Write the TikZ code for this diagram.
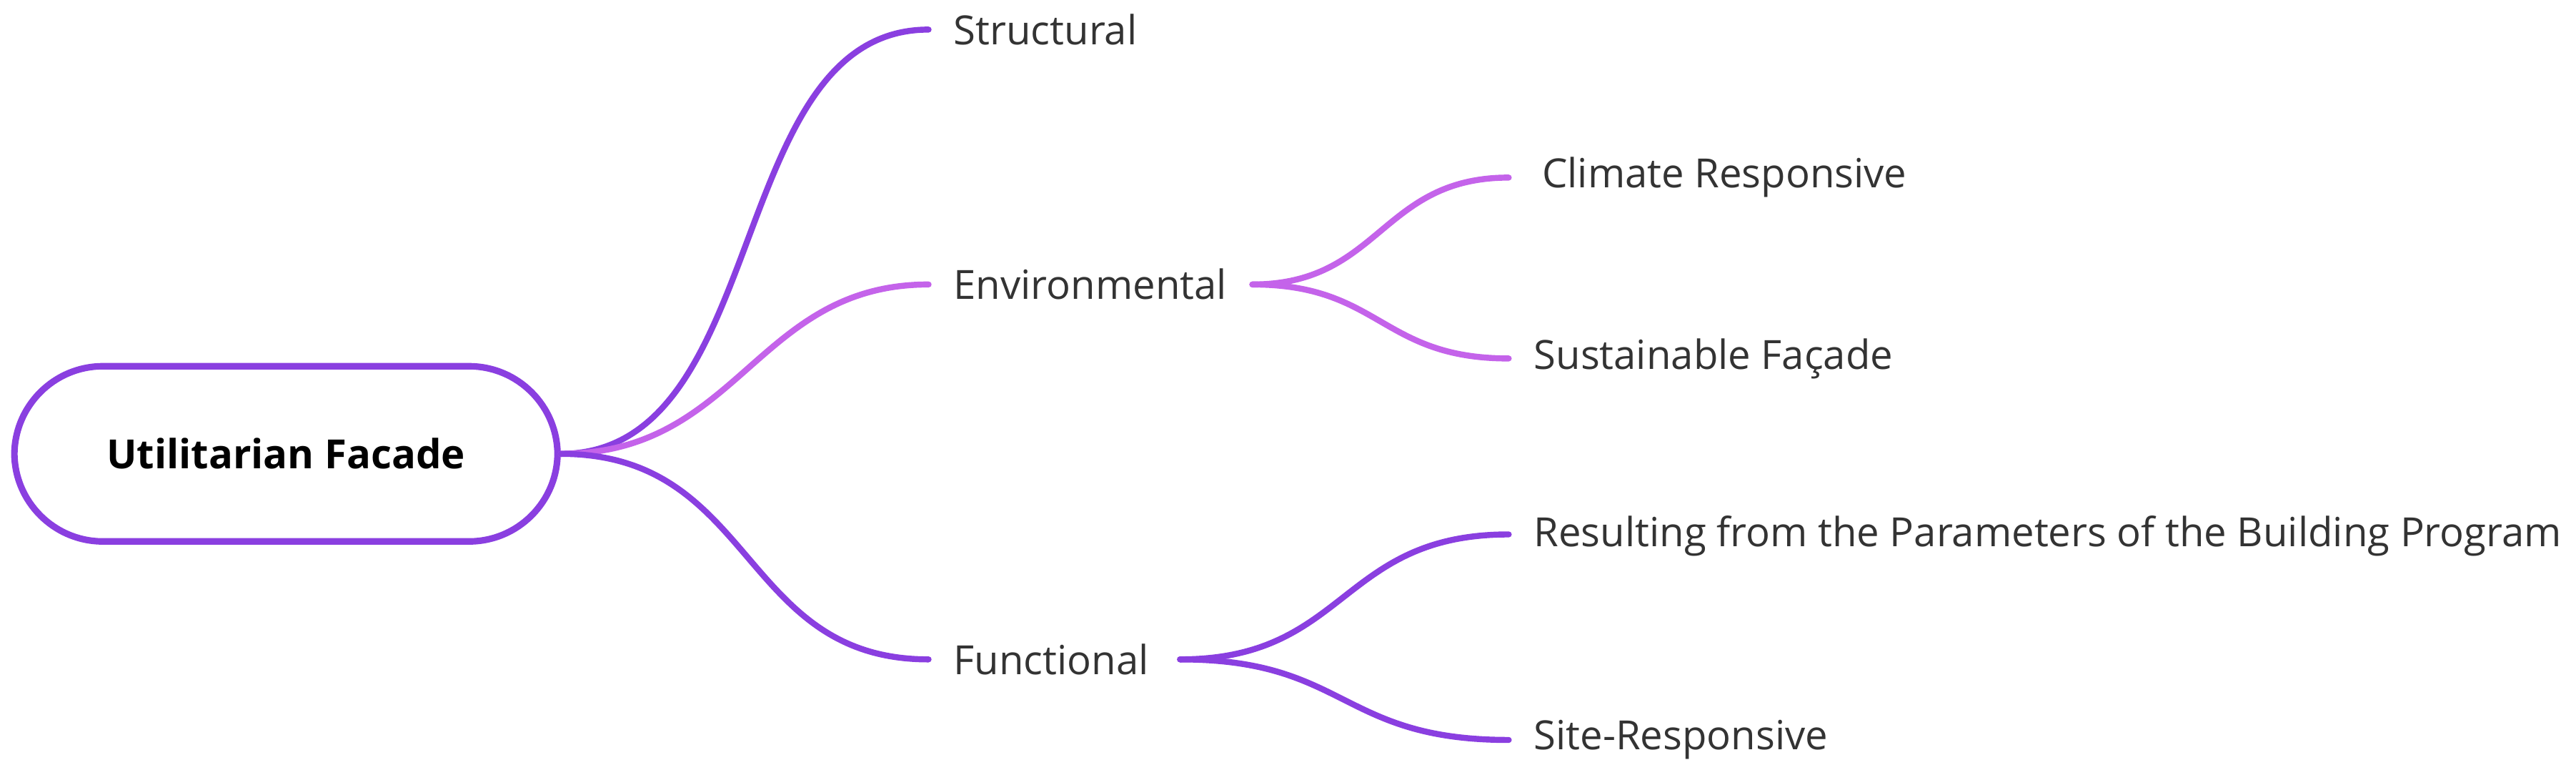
\documentclass[tikz,border=0pt]{standalone}
\usepackage{fontspec}
\setmainfont{Open Sans}
\definecolor{mainp}{HTML}{8A3FE0}
\definecolor{envp}{HTML}{C463EA}
\definecolor{txt}{HTML}{333333}
\begin{document}
\begin{tikzpicture}[x=0.023cm,y=-0.023cm,
  lbl/.style={anchor=west,inner sep=0pt,font=\fontsize{16pt}{19pt}\selectfont,text=txt},
  br/.style={line width=2.4pt,line cap=round}]
\useasboundingbox (0,0) rectangle (1567.4,470.9);
\node[draw=mainp,line width=2.6pt,rounded corners=1.24cm,minimum width=7.6cm,minimum height=2.45cm,
  font=\fontsize{16pt}{19pt}\selectfont\bfseries,text=black] (root) at (174,276) {Utilitarian Facade};
\node[lbl] (s) at (580,18) {Structural};
\node[lbl] (e) at (580,173) {Environmental};
\node[lbl] (f) at (580,401) {Functional};
\node[lbl] (c) at (938,108) {Climate Responsive};
\node[lbl] (sf) at (933,218) {Sustainable Façade};
\node[lbl] (r) at (933,326) {Resulting from the Parameters of the Building Program};
\node[lbl] (sr) at (933,450) {Site-Responsive};
\coordinate (ro) at (root.east);
\coordinate (s0) at (565,18);
\coordinate (e0) at (565,173);
\coordinate (f0) at (565,401);
\draw[br,mainp] (ro) .. controls (470,276) and (440,18) .. (s0);
\draw[br,envp] (ro) .. controls (450,276) and (460,173) .. (e0);
\draw[br,mainp] (ro) .. controls (460,276) and (450,401) .. (f0);
\coordinate (e1) at (762,173);
\coordinate (c0) at (918,108);
\coordinate (sf0) at (918,218);
\draw[br,envp] (e1) .. controls (840,173) and (840,108) .. (c0);
\draw[br,envp] (e1) .. controls (840,173) and (840,218) .. (sf0);
\coordinate (f1) at (718,401);
\coordinate (r0) at (918,325);
\coordinate (sr0) at (918,450);
\draw[br,mainp] (f1) .. controls (820,401) and (815,325) .. (r0);
\draw[br,mainp] (f1) .. controls (820,401) and (815,450) .. (sr0);
\end{tikzpicture}
\end{document}
